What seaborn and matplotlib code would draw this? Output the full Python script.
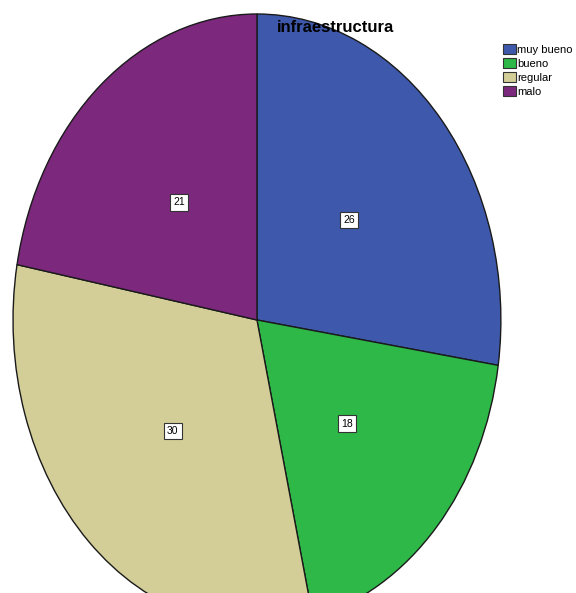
import matplotlib
matplotlib.use("Agg")
import matplotlib.pyplot as plt
import seaborn as sns

# data
categories = ["muy bueno", "bueno", "regular", "malo"]
counts = [26, 18, 30, 21]
colors = ["#3E58AC", "#2EB848", "#D3CE97", "#7C287D"]

sns.set_theme(style="white")
plt.rcParams['font.family'] = ['Liberation Sans', 'DejaVu Sans']
plt.rcParams['text.color'] = 'black'

fig = plt.figure(figsize=(5.76, 5.93), dpi=100)
# pie is stretched vertically and runs off the bottom edge, like the original
ax = fig.add_axes([0.0226, -0.0556, 0.847, 1.032])

wedges, texts, autotexts = ax.pie(
    counts,
    colors=colors,
    startangle=90,
    counterclock=False,
    autopct=lambda p: "{:.0f}".format(p * sum(counts) / 100.0),
    pctdistance=0.5,
    wedgeprops=dict(edgecolor="#1a1a1a", linewidth=1.0),
    textprops=dict(fontsize=7.5, color="black"),
)
for t in autotexts:
    t.set_bbox(dict(boxstyle="square,pad=0.3", facecolor="white", edgecolor="#333333", linewidth=0.8))

ax.set_aspect("auto")
ax.set_xlim(-1, 1)
ax.set_ylim(-1, 1)
ax.axis("off")

fig.text(0.583, 0.953, "infraestructura", ha="center", va="center",
         fontsize=12, fontweight="bold", color="black")

leg = fig.legend(wedges, categories, loc="upper left", bbox_to_anchor=(0.873, 0.926),
                 frameon=False, fontsize=8, handlelength=1.15, handleheight=1.0,
                 handletextpad=0.15, labelspacing=0.3, borderaxespad=0, borderpad=0)
for h in leg.legend_handles:
    h.set_edgecolor("#333333")
    h.set_linewidth(0.8)

fig.savefig("out.png", dpi=100)
